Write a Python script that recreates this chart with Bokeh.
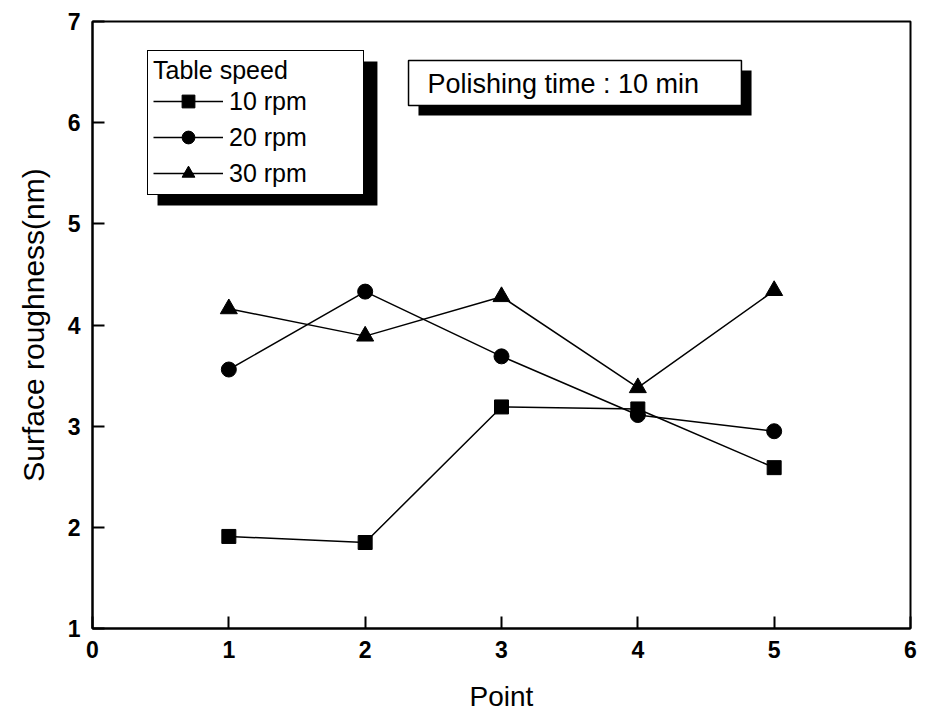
from bokeh.plotting import figure
from bokeh.models import Range1d, FixedTicker, Legend, LegendItem, BoxAnnotation, Label
from bokeh.embed import file_html
from bokeh.resources import INLINE

# ---- data ----
points = [1, 2, 3, 4, 5]
rpm10 = [1.91, 1.85, 3.19, 3.17, 2.59]
rpm20 = [3.56, 4.33, 3.69, 3.11, 2.95]
rpm30 = [4.16, 3.89, 4.28, 3.38, 4.34]
series_labels = ["10 rpm", "20 rpm", "30 rpm"]
x_ticks = [0, 1, 2, 3, 4, 5, 6]
y_ticks = [1, 2, 3, 4, 5, 6, 7]
legend_title = "Table speed"
note_text = "Polishing time : 10 min"
x_title = "Point"
y_title = "Surface roughness(nm)"

FONT = "Liberation Sans"

p = figure(output_backend="svg", toolbar_location=None,
           frame_width=818, frame_height=607,
           min_border_left=92, min_border_right=15, min_border_top=21, min_border_bottom=80,
           x_range=Range1d(0, 6), y_range=Range1d(1, 7))

p.xgrid.visible = False
p.ygrid.visible = False
p.outline_line_color = "black"
p.outline_line_alpha = 1
p.outline_line_width = 2
p.background_fill_color = "white"
p.border_fill_color = "white"

for ax, ticks in ((p.xaxis[0], x_ticks), (p.yaxis[0], y_ticks)):
    ax.ticker = FixedTicker(ticks=ticks)
    ax.minor_tick_line_color = None
    ax.major_tick_in = 12
    ax.major_tick_out = 0
    ax.major_tick_line_width = 2
    ax.axis_line_width = 2
    ax.major_label_text_font = FONT
    ax.major_label_text_font_size = "23px"
    ax.major_label_text_font_style = "bold"
    ax.major_label_text_color = "black"
    ax.axis_label_text_font = FONT
    ax.axis_label_text_font_style = "normal"
    ax.axis_label_text_color = "black"

p.xaxis.axis_label = x_title
p.yaxis.axis_label = y_title
p.xaxis.axis_label_text_font_size = "28px"
p.yaxis.axis_label_text_font_size = "30px"
p.xaxis.major_label_standoff = 12
p.yaxis.major_label_standoff = 12
p.xaxis.axis_label_standoff = 20
p.yaxis.axis_label_standoff = 15

# ---- series ----
l1 = p.line(points, rpm10, line_color="black", line_width=1.5)
m1 = p.scatter(points, rpm10, marker="square", size=14, color="black")
l2 = p.line(points, rpm20, line_color="black", line_width=1.5)
m2 = p.scatter(points, rpm20, marker="circle", size=15, color="black")
l3 = p.line(points, rpm30, line_color="black", line_width=1.5)
m3 = p.scatter(points, rpm30, marker="triangle", size=17, color="black")

# ---- legend shadow ----
p.add_layout(BoxAnnotation(left=0.477, right=2.09, bottom=5.18, top=6.605,
                           fill_color="black", fill_alpha=1, line_color=None))

legend = Legend(items=[LegendItem(label=series_labels[0], renderers=[l1, m1]),
                       LegendItem(label=series_labels[1], renderers=[l2, m2]),
                       LegendItem(label=series_labels[2], renderers=[l3, m3])],
                location=(55, 433), title=legend_title,
                title_text_font=FONT, title_text_font_size="25px", title_text_font_style="normal",
                title_text_color="black", title_standoff=0,
                label_text_font=FONT, label_text_font_size="25px", label_text_color="black",
                glyph_width=70, glyph_height=32, label_height=32, label_width=129,
                label_standoff=6, spacing=4, padding=5, margin=0,
                border_line_color="black", border_line_alpha=1, border_line_width=1.5,
                background_fill_color="white", background_fill_alpha=1)
p.add_layout(legend, "center")

# ---- note box ----
p.add_layout(BoxAnnotation(left=2.391, right=4.834, bottom=6.071, top=6.516,
                           fill_color="black", fill_alpha=1, line_color=None))
p.add_layout(BoxAnnotation(left=2.318, right=4.760, bottom=6.170, top=6.615,
                           fill_color="white", fill_alpha=1, line_color="black",
                           line_alpha=1, line_width=1.5))
p.add_layout(Label(x=2.457, y=6.387, text=note_text, text_font=FONT, text_font_size="27px",
                   text_baseline="middle", text_align="left", text_color="black"))

open("out.html", "w").write(file_html(p, INLINE))
